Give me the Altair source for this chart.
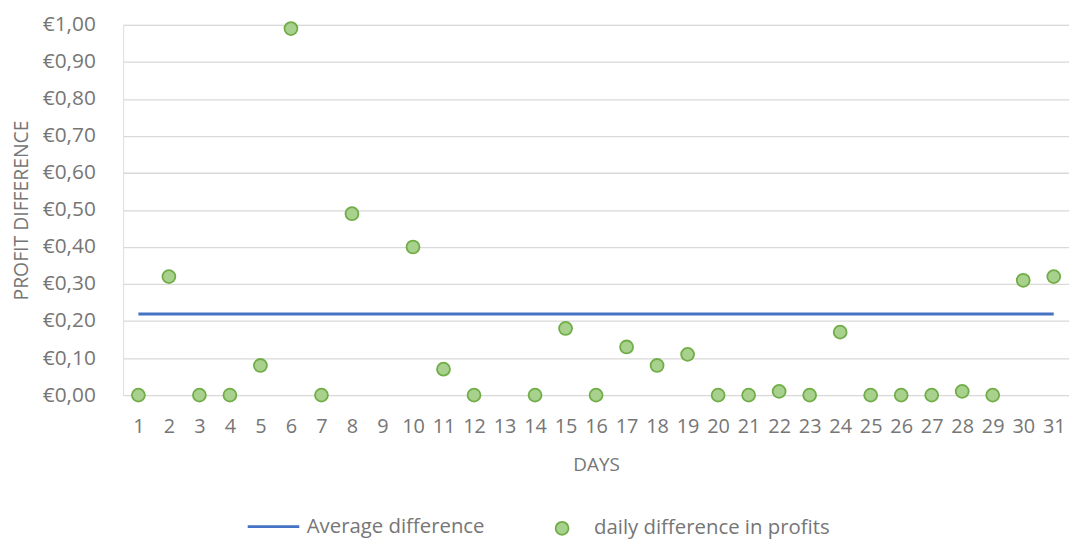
import altair as alt
import pandas as pd

days = list(range(1, 32))
daily_days = [1, 2, 3, 4, 5, 6, 7, 8, 10, 11, 12, 14, 15, 16, 17, 18, 19, 20,
              21, 22, 23, 24, 25, 26, 27, 28, 29, 30, 31]
daily_values = [0.00, 0.32, 0.00, 0.00, 0.08, 0.99, 0.00, 0.49, 0.40, 0.07, 0.00,
                0.00, 0.18, 0.00, 0.13, 0.08, 0.11, 0.00, 0.00, 0.01, 0.00, 0.17,
                0.00, 0.00, 0.00, 0.01, 0.00, 0.31, 0.32]
avg_days = [1, 31]
avg_values = [0.219, 0.219]

FONT = "Open Sans"
GREY = "#767676"

daily_df = pd.DataFrame({"day": daily_days, "value": daily_values,
                         "pt_series": "daily difference in profits"})
avg_df = pd.DataFrame({"day": avg_days, "value": avg_values,
                       "line_series": "Average difference"})

x_enc = alt.X("day:O", scale=alt.Scale(domain=days, type="point", padding=0.5),
              axis=alt.Axis(title="DAYS", labelAngle=0, ticks=False, domain=False,
                            grid=False, labelFontSize=20, labelColor=GREY,
                            labelFont=FONT, labelPadding=22, titleFont=FONT,
                            titleFontSize=19, titleColor=GREY, titleFontWeight="normal",
                            titlePadding=19))
y_enc = alt.Y("value:Q", scale=alt.Scale(domain=[0, 1], nice=False),
              axis=alt.Axis(title="PROFIT DIFFERENCE", values=[i / 10 for i in range(11)],
                            labelExpr='"€" + replace(format(datum.value, ".2f"), ".", ",")',
                            ticks=False, domain=False, grid=True, gridColor="#d9d9d9",
                            gridWidth=1.3, labelFontSize=21, labelColor=GREY, labelFont=FONT,
                            labelPadding=28, titleFont=FONT, titleFontSize=19.5,
                            titleColor=GREY, titleFontWeight="normal", titlePadding=11))

line = alt.Chart(avg_df).mark_line(strokeWidth=2.8).encode(
    x=x_enc, y=y_enc,
    stroke=alt.Stroke("line_series:N", scale=alt.Scale(domain=["Average difference"],
                                                        range=["#4472c4"]),
                      legend=alt.Legend(title=None, orient="none", legendX=124, legendY=478,
                                        symbolType="stroke", symbolSize=2700,
                                        symbolStrokeWidth=2.8, labelFont=FONT,
                                        labelFontSize=20.5, labelColor=GREY, labelOffset=6,
                                        labelLimit=0, padding=0))
)

points = alt.Chart(daily_df).mark_point(filled=True, size=170, stroke="#70ad47",
                                        strokeWidth=1.8, opacity=1).encode(
    x=x_enc, y=y_enc,
    fill=alt.Fill("pt_series:N", scale=alt.Scale(domain=["daily difference in profits"],
                                                  range=["#a9d18e"]),
                  legend=alt.Legend(title=None, orient="none", legendX=432, legendY=497,
                                    symbolType="circle", symbolSize=170,
                                    symbolStrokeColor="#70ad47", symbolStrokeWidth=1.8,
                                    symbolOpacity=1, labelFont=FONT, labelFontSize=20.5,
                                    labelColor=GREY, labelOffset=22, labelLimit=0,
                                    padding=0))
)

chart = alt.layer(line, points).resolve_legend(stroke="independent", fill="independent").properties(
    width=953, height=373,
    autosize=alt.AutoSizeParams(type="none"),
    padding={"left": 116, "top": 15, "right": 0, "bottom": 143},
).configure_view(stroke=None).configure(background="white")

chart.save("out.html", embed_options={"renderer": "svg", "actions": False})
